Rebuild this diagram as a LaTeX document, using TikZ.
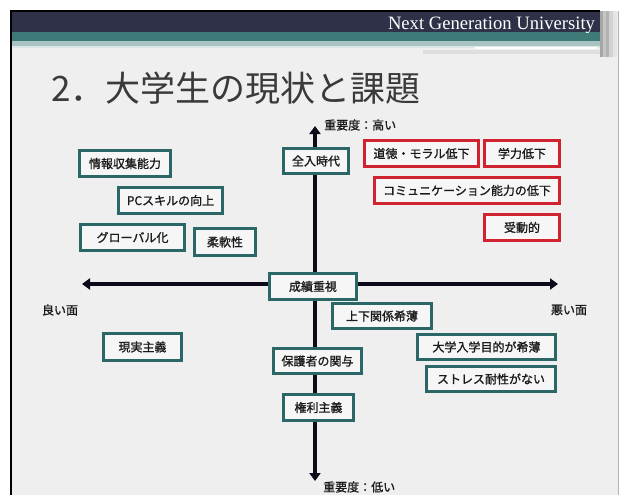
\documentclass[tikz,border=0pt]{standalone}
\usepackage{fontspec}
\usetikzlibrary{arrows.meta}
\newfontfamily\jp{Noto Sans CJK JP}
\newfontfamily\jpb[FakeBold=1.2]{Noto Sans CJK JP}
\newfontfamily\hdrfont{Liberation Serif}
\definecolor{slidebg}{HTML}{EFEFEF}
\definecolor{boxfill}{HTML}{F6F6F6}
\definecolor{tealb}{HTML}{2C6767}
\definecolor{redb}{HTML}{D0232F}
\definecolor{txt}{HTML}{1A1A1A}
\definecolor{navy}{HTML}{2F3148}
\definecolor{tealhdr}{HTML}{3D7A78}
\definecolor{axisc}{HTML}{0B0B1A}
\definecolor{titlec}{HTML}{3A3A3A}
\tikzset{
  boxbase/.style={line width=3pt, fill=boxfill, inner sep=0pt, text=txt,
    font=\jpb\fontsize{12}{13}\selectfont},
  tbox/.style={boxbase, draw=tealb},
  rbox/.style={boxbase, draw=redb},
  axislabel/.style={inner sep=0pt, text=txt, font=\jpb\fontsize{12}{13}\selectfont},
  axisline/.style={line width=4pt, draw=axisc, -{Triangle[length=8pt,width=11pt]}}
}
\begin{document}
\begin{tikzpicture}[x=1pt,y=-1pt]
\useasboundingbox (0,0) rectangle (619,495);
\fill[white] (0,0) rectangle (619,495);
% slide
\fill[slidebg] (11,11) rectangle (618,495);
% header
\fill[navy] (11,11) rectangle (600,32);
\fill[tealhdr] (11,32) rectangle (600,41);
\fill[color=tealhdr!45!white] (11,41) rectangle (600,46);
\fill[color=tealhdr!18!white] (11,46) rectangle (600,48);
\fill[color=gray!25] (423,50) rectangle (600,54);
\draw[color=white, line width=1.2pt] (475,48) -- (597,48);
% right stripes
\fill[color=gray!70] (600,11) rectangle (603,57);
\fill[color=gray!45] (603,11) rectangle (606,57);
\fill[color=gray!60] (606,11) rectangle (609,57);
\fill[color=gray!35] (609,11) rectangle (613,57);
\fill[color=gray!20] (613,11) rectangle (617,57);
% frame
\draw[line width=2pt, black] (11,495) -- (11,11) -- (600,11);
\draw[line width=1pt, color=gray!60] (618,11) -- (618,495);
% header text
\node[text=white, inner sep=0pt, anchor=base] (hdr) at (491.5,30) {\resizebox{207pt}{12.5pt}{\hdrfont Next Generation University}};
% title
\node[anchor=west, text=titlec, inner sep=0pt, font=\jp\fontsize{35}{38}\selectfont] (title) at (51,88) {2．大学生の現状と課題};
% axes
\coordinate (L) at (82,284);
\coordinate (R) at (558,284);
\coordinate (T) at (315,126);
\coordinate (B) at (315,481);
\coordinate (O) at (315,284);
\draw[axisline] (O) -- (L);
\draw[axisline] (O) -- (R);
\draw[axisline] (O) -- (T);
\draw[axisline] (O) -- (B);
% axis labels
\node[axislabel, anchor=west] (hi) at (324,125) {重要度：高い};
\node[axislabel, anchor=west] (lo) at (323,487) {重要度：低い};
\node[axislabel] (good) at (60,310) {良い面};
\node[axislabel] (bad) at (569,310) {悪い面};
% teal boxes
\node[tbox, minimum width=91pt, minimum height=26pt] (info) at (125,163.5) {情報収集能力};
\node[tbox, minimum width=104pt, minimum height=26pt] (pc) at (170.5,200.5) {PCスキルの向上};
\node[tbox, minimum width=104pt, minimum height=26pt] (glob) at (132.5,237.5) {グローバル化};
\node[tbox, minimum width=61pt, minimum height=27pt] (flex) at (225,242) {柔軟性};
\node[tbox, minimum width=65pt, minimum height=25pt] (zen) at (316,161) {全入時代};
\node[tbox, minimum width=87pt, minimum height=26pt] (seis) at (313,286.5) {成績重視};
\node[tbox, minimum width=99pt, minimum height=25pt] (jouge) at (382,316) {上下関係希薄};
\node[tbox, minimum width=138pt, minimum height=25pt] (mok) at (486.5,347) {大学入学目的が希薄};
\node[tbox, minimum width=129pt, minimum height=25pt] (stress) at (491,379) {ストレス耐性がない};
\node[tbox, minimum width=88pt, minimum height=25pt] (hogo) at (317.5,361) {保護者の関与};
\node[tbox, minimum width=70pt, minimum height=26pt] (kenri) at (318.5,407.5) {権利主義};
\node[tbox, minimum width=78pt, minimum height=27pt] (genj) at (142.5,347) {現実主義};
% red boxes
\node[rbox, minimum width=114pt, minimum height=26pt] (dou) at (421.5,153.5) {道徳・モラル低下};
\node[rbox, minimum width=75pt, minimum height=26pt] (gaku) at (522,153.5) {学力低下};
\node[rbox, minimum width=185pt, minimum height=26pt] (comm) at (467,190.5) {コミュニケーション能力の低下};
\node[rbox, minimum width=75pt, minimum height=26pt] (judo) at (522,227.5) {受動的};
\end{tikzpicture}
\end{document}
